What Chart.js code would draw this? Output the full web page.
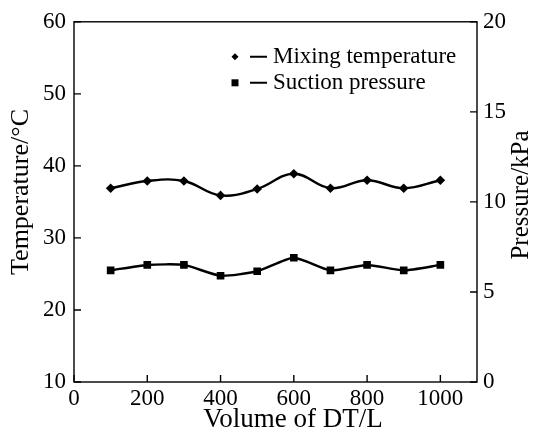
<!DOCTYPE html>
<html>
<head>
<meta charset="utf-8">
<script src="https://cdn.jsdelivr.net/npm/chart.js@4/dist/chart.umd.min.js"></script>
<style>
html,body{margin:0;padding:0;background:#fff;}
#wrap{width:534px;height:439px;position:relative;}
</style>
</head>
<body>
<div id="wrap"><canvas id="c" width="534" height="439"></canvas></div>
<script>
const volumes = [100, 200, 300, 400, 500, 600, 700, 800, 900, 1000];
const mixingTemperature = [36.9, 37.9, 37.9, 35.9, 36.8, 38.9, 36.9, 38.0, 36.9, 38.0];
const suctionPressure = [6.2, 6.5, 6.5, 5.9, 6.15, 6.9, 6.2, 6.5, 6.2, 6.5];
const seriesNames = ['Mixing temperature', 'Suction pressure'];
const xTitle = 'Volume of DT/L';
const yLeftTitle = 'Temperature/°C';
const yRightTitle = 'Pressure/kPa';

const FONT = "'Liberation Serif', 'Times New Roman', serif";

const framePlugin = {
  id: 'frame',
  afterDraw(chart) {
    const {ctx, chartArea: a, scales} = chart;
    ctx.save();
    ctx.strokeStyle = '#000';
    ctx.lineWidth = 1.4;
    ctx.strokeRect(a.left, a.top, a.right - a.left, a.bottom - a.top);
    const L = 7;
    ctx.beginPath();
    scales.x.ticks.forEach(t => {
      const px = scales.x.getPixelForValue(t.value);
      ctx.moveTo(px, a.bottom); ctx.lineTo(px, a.bottom - L);
    });
    scales.y.ticks.forEach(t => {
      const py = scales.y.getPixelForValue(t.value);
      ctx.moveTo(a.left, py); ctx.lineTo(a.left + L, py);
    });
    scales.y2.ticks.forEach(t => {
      const py = scales.y2.getPixelForValue(t.value);
      ctx.moveTo(a.right, py); ctx.lineTo(a.right - L, py);
    });
    ctx.stroke();
    ctx.restore();

    // axis titles
    ctx.save();
    ctx.fillStyle = '#000';
    ctx.textAlign = 'center';
    ctx.textBaseline = 'middle';
    ctx.font = "27px " + FONT;
    ctx.fillText(xTitle, 293, 420);
    ctx.save();
    ctx.font = "26px " + FONT;
    ctx.translate(21, 192);
    ctx.rotate(-Math.PI / 2);
    ctx.fillText(yLeftTitle, 0, 0);
    ctx.restore();
    ctx.save();
    ctx.font = "25px " + FONT;
    ctx.translate(521, 195);
    ctx.rotate(-Math.PI / 2);
    ctx.fillText(yRightTitle, 0, 0);
    ctx.restore();
    ctx.restore();

    // legend
    ctx.save();
    ctx.fillStyle = '#000';
    ctx.strokeStyle = '#000';
    ctx.font = "23px " + FONT;
    ctx.textAlign = 'left';
    ctx.textBaseline = 'middle';
    const lx = a.left + 161, ly1 = a.top + 35, ly2 = a.top + 61;
    ctx.beginPath();
    ctx.moveTo(lx, ly1 - 3.5); ctx.lineTo(lx + 3.5, ly1); ctx.lineTo(lx, ly1 + 3.5); ctx.lineTo(lx - 3.5, ly1);
    ctx.closePath(); ctx.fill();
    ctx.fillRect(lx - 3.5, ly2 - 3.5, 7, 7);
    ctx.lineWidth = 2;
    ctx.beginPath();
    ctx.moveTo(lx + 15, ly1); ctx.lineTo(lx + 32, ly1);
    ctx.moveTo(lx + 15, ly2); ctx.lineTo(lx + 32, ly2);
    ctx.stroke();
    ctx.fillText(seriesNames[0], lx + 38, ly1);
    ctx.fillText(seriesNames[1], lx + 38, ly2);
    ctx.restore();
  }
};

new Chart(document.getElementById('c'), {
  type: 'line',
  data: {
    datasets: [
      {
        label: seriesNames[0],
        data: volumes.map((v, i) => ({x: v, y: mixingTemperature[i]})),
        yAxisID: 'y',
        borderColor: '#000',
        backgroundColor: '#000',
        borderWidth: 2.4,
        tension: 0.4,
        pointStyle: 'rectRot',
        pointRadius: 4.8,
        pointBorderWidth: 0
      },
      {
        label: seriesNames[1],
        data: volumes.map((v, i) => ({x: v, y: suctionPressure[i]})),
        yAxisID: 'y2',
        borderColor: '#000',
        backgroundColor: '#000',
        borderWidth: 2.4,
        tension: 0.2,
        pointStyle: 'rect',
        pointRadius: 5.4,
        pointBorderWidth: 0
      }
    ]
  },
  options: {
    responsive: false,
    animation: false,
    devicePixelRatio: 1,
    layout: {padding: {top: 20, left: 0, right: 0, bottom: 0}},
    plugins: {legend: {display: false}, tooltip: {enabled: false}},
    scales: {
      x: {
        type: 'linear',
        min: 0, max: 1100,
        grid: {display: false, drawTicks: false},
        border: {display: false},
        ticks: {stepSize: 200, includeBounds: false, color: '#000', padding: 3,
                callback: v => String(v),
                font: {family: FONT, size: 23, lineHeight: 1.2}},
        title: {display: false},
        afterFit(s) { s.height = 57; }
      },
      y: {
        position: 'left',
        min: 10, max: 60,
        grid: {display: false, drawTicks: false},
        border: {display: false},
        ticks: {stepSize: 10, color: '#000', padding: 8,
                font: {family: FONT, size: 23, lineHeight: 1.2}},
        title: {display: false},
        afterFit(s) { s.width = 74; }
      },
      y2: {
        position: 'right',
        min: 0, max: 20,
        grid: {display: false, drawTicks: false},
        border: {display: false},
        ticks: {stepSize: 5, color: '#000', padding: 6,
                font: {family: FONT, size: 23, lineHeight: 1.2}},
        title: {display: false},
        afterFit(s) { s.width = 57; }
      }
    }
  },
  plugins: [framePlugin]
});
</script>
</body>
</html>
